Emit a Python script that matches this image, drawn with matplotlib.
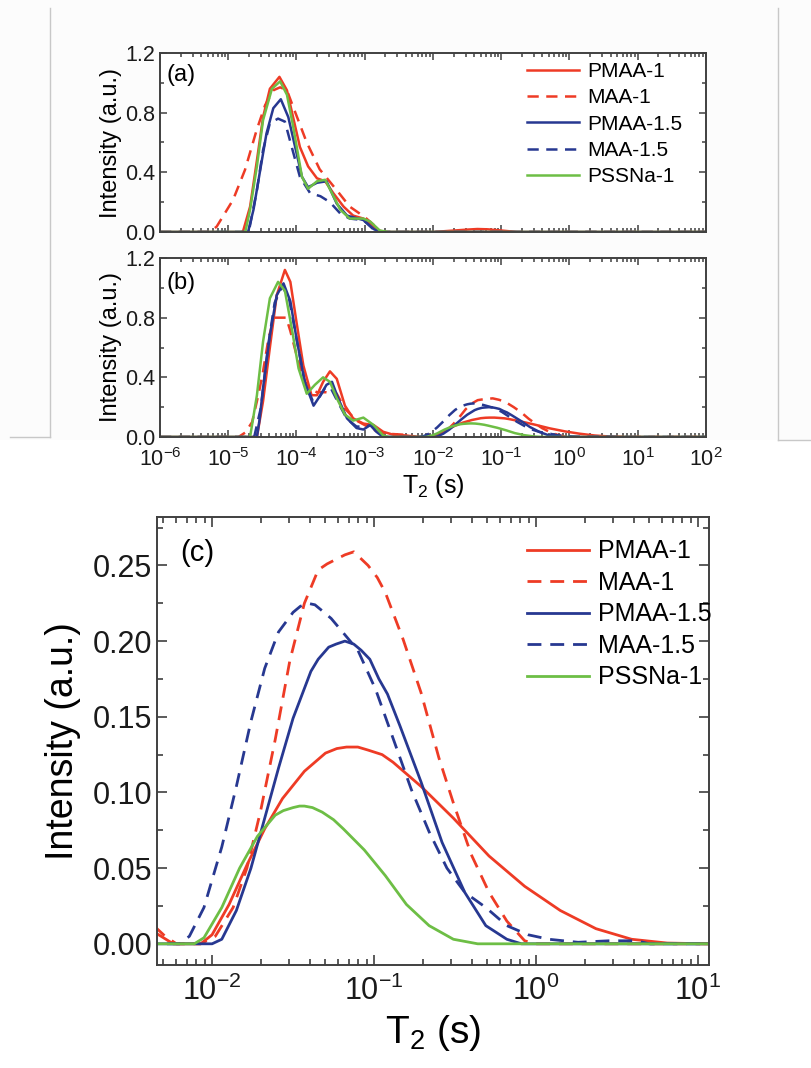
import numpy as np
import matplotlib
matplotlib.use("Agg")
import matplotlib.pyplot as plt
from matplotlib.lines import Line2D
from matplotlib.patches import Rectangle
from matplotlib.ticker import LogLocator, MultipleLocator, NullFormatter

plt.rcParams['font.family'] = ['Liberation Sans', 'DejaVu Sans']
plt.rcParams['mathtext.default'] = 'regular'
plt.rcParams['axes.unicode_minus'] = False

# ---------------- data (log10 of T2 in s, intensity in a.u.) ----------------
labels = ["PMAA-1", "MAA-1", "PMAA-1.5", "MAA-1.5", "PSSNa-1"]

# panel (a)
a_pmaa1_logt = [-6, -4.80, -4.78, -4.68, -4.58, -4.49, -4.39, -4.25, -4.14, -4.05, -3.95, -3.83, -3.70,
                -3.58, -3.46, -3.31, -3.17, -3.02, -2.92, -2.78, -2.0, -1.75, -1.5, -1.35, -1.2, -1.0, -0.77, 2]
a_pmaa1_int = [0, 0, 0.01, 0.17, 0.48, 0.77, 0.96, 1.04, 0.95, 0.77, 0.57, 0.44, 0.36,
               0.34, 0.26, 0.17, 0.11, 0.09, 0.06, 0, 0, 0.008, 0.016, 0.02, 0.018, 0.01, 0, 0]
a_maa1_logt = [-6, -5.27, -5.17, -4.93, -4.755, -4.583, -4.46, -4.34, -4.24, -4.14, -4.05, -3.85, -3.66,
               -3.41, -3.22, -3.0, -2.85, -2.75, 2]
a_maa1_int = [0, 0, 0.036, 0.215, 0.416, 0.685, 0.85, 0.95, 0.97, 0.95, 0.84, 0.60, 0.42,
              0.28, 0.17, 0.10, 0.04, 0, 0]
a_pmaa15_logt = [-6, -4.71, -4.63, -4.53, -4.44, -4.34, -4.23, -4.12, -4.02, -3.92, -3.83, -3.70, -3.56,
                 -3.41, -3.26, -3.02, -2.87, -2.78, 2]
a_pmaa15_int = [0, 0, 0.15, 0.42, 0.66, 0.83, 0.89, 0.77, 0.57, 0.37, 0.30, 0.33, 0.34,
                0.19, 0.11, 0.08, 0.02, 0, 0]
a_maa15_logt = [-6, -4.70, -4.58, -4.49, -4.39, -4.27, -4.17, -4.07, -3.95, -3.80, -3.65, -3.51, -3.36,
                -3.22, -3.02, -2.83, 2]
a_maa15_int = [0, 0, 0.28, 0.55, 0.73, 0.76, 0.74, 0.57, 0.37, 0.26, 0.24, 0.20, 0.125,
               0.09, 0.08, 0, 0]
a_pssna1_logt = [-6, -4.75, -4.68, -4.58, -4.49, -4.36, -4.24, -4.14, -4.05, -3.92, -3.83, -3.70, -3.58,
                 -3.48, -3.36, -3.22, -3.02, -2.92, -2.78, -2.65, 2]
a_pssna1_int = [0, 0, 0.15, 0.44, 0.75, 0.96, 1.01, 0.92, 0.71, 0.37, 0.29, 0.34, 0.35,
                0.26, 0.15, 0.09, 0.09, 0.07, 0.01, 0, 0]

# panel (b) (panel (c) is an enlarged view of the same data)
b_pmaa1_logt = [-6, -4.58, -4.49, -4.39, -4.29, -4.17, -4.09, -4.00, -3.90, -3.78, -3.70, -3.61, -3.51,
                -3.41, -3.29, -3.17, -3.02, -2.87, -2.73, -2.58, -2.39, -2.24,
                -2.07, -2.0, -1.895, -1.785, -1.675, -1.565, -1.43, -1.30, -1.23, -1.17, -1.10, -1.037,
                -0.95, -0.883, -0.71, -0.51, -0.29, -0.07, 0.15, 0.37, 0.59, 0.81, 1.06, 2]
b_pmaa1_int = [0, 0, 0.24, 0.60, 0.95, 1.12, 1.04, 0.77, 0.48, 0.28, 0.28, 0.37, 0.44,
               0.39, 0.21, 0.125, 0.09, 0.08, 0.035, 0.015, 0.01, 0,
               0, 0.006, 0.026, 0.052, 0.076, 0.096, 0.114, 0.126, 0.129, 0.130, 0.130, 0.128,
               0.125, 0.120, 0.104, 0.083, 0.058, 0.038, 0.022, 0.010, 0.003, 0.0005, 0, 0]
b_maa1_logt = [-6, -4.85, -4.75, -4.65, -4.55, -4.49, -4.41, -4.33, -4.15, -4.09, -4.00, -3.92, -3.83,
               -3.70, -3.56, -3.41, -3.29, -3.12, -2.92, -2.78, -2.6, -2.45, -2.38, -2.29, -2.22,
               -2.07, -1.98, -1.87, -1.785, -1.70, -1.61, -1.52, -1.43, -1.345, -1.29, -1.235, -1.18,
               -1.125, -1.037, -0.98, -0.93, -0.82, -0.71, -0.60, -0.51, -0.40, -0.29, -0.18, -0.07,
               -0.005, 2]
b_maa1_int = [0, 0, 0.03, 0.10, 0.30, 0.44, 0.66, 0.80, 0.80, 0.71, 0.55, 0.42, 0.33,
              0.30, 0.30, 0.29, 0.19, 0.11, 0.06, 0.03, 0.02, 0.016, 0.014, 0.005, 0,
              0, 0.005, 0.024, 0.050, 0.088, 0.135, 0.187, 0.225, 0.247, 0.251, 0.254, 0.257,
              0.259, 0.250, 0.242, 0.232, 0.201, 0.166, 0.123, 0.093, 0.059, 0.034, 0.015, 0.002,
              0, 0]
b_pmaa15_logt = [-6, -4.58, -4.54, -4.49, -4.39, -4.29, -4.19, -4.09, -4.0, -3.88, -3.75, -3.65, -3.56,
                 -3.48, -3.39, -3.26, -3.12, -3.02, -2.92, -2.83, -2.73,
                 -2.0, -1.94, -1.85, -1.76, -1.675, -1.59, -1.50, -1.39, -1.345, -1.28, -1.235, -1.18,
                 -1.125, -1.08, -1.026, -0.97, -0.917, -0.84, -0.71, -0.58, -0.44, -0.31, -0.18, -0.09, 2]
b_pmaa15_int = [0, 0, 0.12, 0.33, 0.68, 0.95, 1.03, 0.91, 0.66, 0.37, 0.21, 0.28, 0.35,
                0.37, 0.26, 0.125, 0.06, 0.05, 0.08, 0.035, 0,
                0, 0.003, 0.022, 0.050, 0.083, 0.116, 0.149, 0.180, 0.188, 0.196, 0.198, 0.200,
                0.198, 0.194, 0.188, 0.175, 0.165, 0.144, 0.107, 0.067, 0.034, 0.012, 0.003, 0, 0]
b_maa15_logt = [-6, -4.62, -4.52, -4.42, -4.32, -4.21, -4.11, -4.0, -3.88, -3.76, -3.66, -3.58, -3.50,
                -3.40, -3.26, -3.12, -3.0, -2.90, -2.78, -2.70,
                -2.2, -2.14, -2.05, -1.94, -1.85, -1.76, -1.675, -1.59, -1.50, -1.455, -1.41, -1.365,
                -1.32, -1.265, -1.21, -1.10, -0.99, -0.88, -0.77, -0.66, -0.55, -0.44, -0.31, -0.18,
                -0.05, 0.08, 0.26, 0.45, 0.62, 0.70, 2]
b_maa15_int = [0, 0, 0.20, 0.60, 0.90, 1.01, 0.93, 0.66, 0.37, 0.24, 0.27, 0.33, 0.33,
               0.24, 0.12, 0.07, 0.07, 0.08, 0.02, 0,
               0, 0.005, 0.024, 0.064, 0.104, 0.147, 0.182, 0.206, 0.219, 0.223, 0.225, 0.224,
               0.220, 0.215, 0.208, 0.194, 0.168, 0.135, 0.102, 0.074, 0.050, 0.034, 0.024, 0.012,
               0.006, 0.003, 0.001, 0.002, 0.002, 0, 0]
b_pssna1_logt = [-6, -4.68, -4.58, -4.49, -4.39, -4.27, -4.17, -4.07, -3.97, -3.85, -3.73, -3.61, -3.51,
                 -3.41, -3.29, -3.17, -3.02, -2.87, -2.73, -2.65,
                 -2.11, -2.05, -1.94, -1.83, -1.72, -1.61, -1.56, -1.50, -1.46, -1.43, -1.38, -1.32,
                 -1.25, -1.19, -1.06, -0.93, -0.80, -0.66, -0.51, -0.36, 2]
b_pssna1_int = [0, 0, 0.28, 0.64, 0.93, 1.04, 0.98, 0.73, 0.46, 0.29, 0.35, 0.40, 0.37,
                0.26, 0.15, 0.11, 0.13, 0.08, 0.01, 0,
                0, 0.004, 0.024, 0.050, 0.071, 0.085, 0.088, 0.090, 0.091, 0.091, 0.090, 0.087,
                0.082, 0.076, 0.062, 0.045, 0.026, 0.012, 0.003, 0, 0]

xticks_ab = [1e-6, 1e-5, 1e-4, 1e-3, 1e-2, 1e-1, 1e0, 1e1, 1e2]
xticklabels_ab = ["10$^{-6}$", "10$^{-5}$", "10$^{-4}$", "10$^{-3}$", "10$^{-2}$",
                  "10$^{-1}$", "10$^{0}$", "10$^{1}$", "10$^{2}$"]
yticks_ab = [0.0, 0.4, 0.8, 1.2]
xticks_c = [1e-2, 1e-1, 1e0, 1e1]
xticklabels_c = ["10$^{-2}$", "10$^{-1}$", "10$^{0}$", "10$^{1}$"]
yticks_c = [0.00, 0.05, 0.10, 0.15, 0.20, 0.25]

# ---------------- style ----------------
RED = '#EE3B25'
BLUE = '#273891'
GREEN = '#6DBE45'
colors = [RED, RED, BLUE, BLUE, GREEN]
styles = ['-', '--', '-', '--', '-']
SPINE = '#404040'

W, H = 812, 1068
fig = plt.figure(figsize=(W / 100, H / 100), dpi=100)

# light panel background & frame lines of the upper (pasted) image
fig.patches.append(Rectangle((0, (H - 440) / H), 1, 440 / H, transform=fig.transFigure,
                             facecolor='#fcfcfc', edgecolor='none', zorder=-10))
lc = '#c8c8c8'
for (x0, y0, x1, y1) in [(50, 8, 50, 437), (10, 437, 50, 437), (778, 8, 778, 440), (778, 440, 812, 440)]:
    fig.add_artist(Line2D([x0 / W, x1 / W], [1 - y0 / H, 1 - y1 / H], color=lc, lw=1.0))


def axrect(l, t, r, b):
    return [l / W, 1 - b / H, (r - l) / W, (b - t) / H]


def style_axes(ax, fs, major_len, minor_len, lw):
    ax.tick_params(which='both', direction='in', top=True, right=True, colors=SPINE,
                   labelcolor='#1a1a1a', labelsize=fs, width=lw)
    ax.tick_params(which='major', length=major_len)
    ax.tick_params(which='minor', length=minor_len)
    for s in ax.spines.values():
        s.set_color(SPINE)
        s.set_linewidth(1.4)


ax_a = fig.add_axes(axrect(160, 53, 706, 232))
ax_b = fig.add_axes(axrect(160, 258, 706, 437))
ax_c = fig.add_axes(axrect(157, 517, 709, 965))

a_sets = [(a_pmaa1_logt, a_pmaa1_int), (a_maa1_logt, a_maa1_int), (a_pmaa15_logt, a_pmaa15_int),
          (a_maa15_logt, a_maa15_int), (a_pssna1_logt, a_pssna1_int)]
b_sets = [(b_pmaa1_logt, b_pmaa1_int), (b_maa1_logt, b_maa1_int), (b_pmaa15_logt, b_pmaa15_int),
          (b_maa15_logt, b_maa15_int), (b_pssna1_logt, b_pssna1_int)]

for ax, sets in [(ax_a, a_sets), (ax_b, b_sets)]:
    for (lt, it), c, ls, lab in zip(sets, colors, styles, labels):
        ln, = ax.plot(10 ** np.array(lt), it, color=c, ls=ls, lw=1.8, label=lab)
        if ls == '--':
            ln.set_dashes((4.5, 3))
    ax.set_xscale('log')
    ax.set_xlim(1e-6, 1e2)
    ax.set_ylim(0, 1.2)
    ax.set_yticks(yticks_ab)
    ax.set_yticklabels([f"{v:.1f}" for v in yticks_ab])
    ax.yaxis.set_minor_locator(MultipleLocator(0.2))
    ax.set_xticks(xticks_ab)
    ax.xaxis.set_minor_locator(LogLocator(base=10, subs=np.arange(2, 10), numticks=100))
    ax.xaxis.set_minor_formatter(NullFormatter())
    style_axes(ax, 15.5, 5, 3, 1.1)
    ax.set_ylabel("Intensity (a.u.)", fontsize=17, labelpad=2)

ax_a.set_xticklabels([])
ax_b.set_xticklabels(xticklabels_ab)
ax_b.tick_params(axis='x', pad=8)
ax_b.set_xlabel("T$_2$ (s)", fontsize=18, labelpad=1)
ax_a.text(0.012, 0.875, "(a)", transform=ax_a.transAxes, fontsize=17, va='center', ha='left')
ax_b.text(0.012, 0.86, "(b)", transform=ax_b.transAxes, fontsize=17, va='center', ha='left')
ax_a.legend(loc='upper left', bbox_to_anchor=(0.672, 0.95), frameon=False, fontsize=15,
            handlelength=2.5, handletextpad=0.4, labelspacing=0.35, borderpad=0, borderaxespad=0)

# panel (c)
for (lt, it), c, ls, lab in zip(b_sets, colors, styles, labels):
    ln, = ax_c.plot(10 ** np.array(lt), it, color=c, ls=ls, lw=2.0, label=lab)
    if ls == '--':
        ln.set_dashes((5, 3.2))
ax_c.set_xscale('log')
ax_c.set_xlim(10 ** -2.34, 10 ** 1.068)
ax_c.set_ylim(-0.014, 0.282)
ax_c.set_yticks(yticks_c)
ax_c.set_yticklabels([f"{v:.2f}" for v in yticks_c])
ax_c.yaxis.set_minor_locator(MultipleLocator(0.025))
ax_c.set_xticks(xticks_c)
ax_c.set_xticklabels(xticklabels_c)
ax_c.xaxis.set_minor_locator(LogLocator(base=10, subs=np.arange(2, 10), numticks=100))
ax_c.xaxis.set_minor_formatter(NullFormatter())
style_axes(ax_c, 22, 7, 4, 1.2)
ax_c.tick_params(axis='x', pad=8)
ax_c.set_ylabel("Intensity (a.u.)", fontsize=27, labelpad=8)
ax_c.set_xlabel("T$_2$ (s)", fontsize=28, labelpad=4)
ax_c.text(0.042, 0.92, "(c)", transform=ax_c.transAxes, fontsize=21, va='center', ha='left')
ax_c.legend(loc='upper left', bbox_to_anchor=(0.670, 0.95), frameon=False, fontsize=18,
            handlelength=2.5, handletextpad=0.35, labelspacing=0.3, borderpad=0, borderaxespad=0)

fig.savefig("out.png", dpi=100, facecolor='white')
